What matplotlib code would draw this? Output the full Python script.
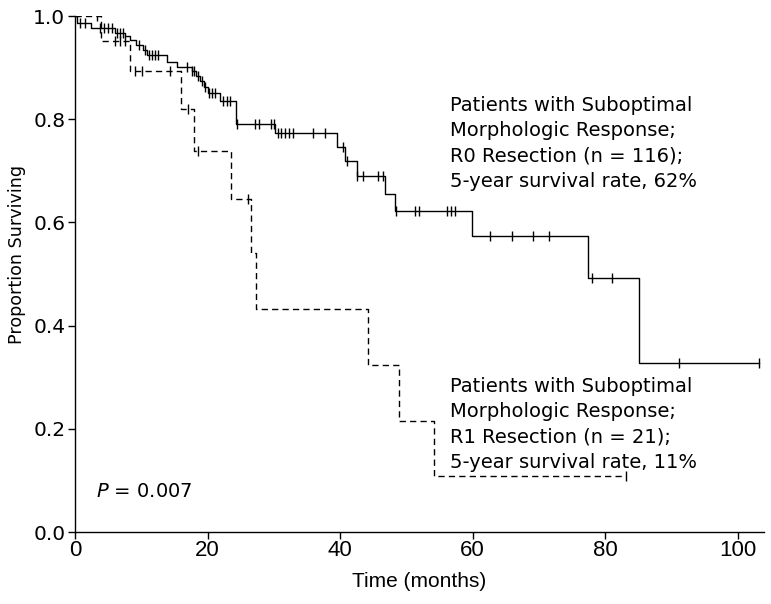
import numpy as np
import matplotlib
matplotlib.use("Agg")
import matplotlib.pyplot as plt

plt.rcParams['font.family'] = ['DejaVu Sans']

# R0 resection (n = 116): step times (months) and survival after each step
r0_times = [0, 0.35, 2.4, 6.0, 7.6, 8.3, 9.2, 10.2, 10.9, 13.9, 15.4, 17.6, 18.2,
            18.8, 19.5, 20.0, 21.9, 24.3, 30.2, 39.5, 40.7, 42.5, 46.8, 48.3,
            59.9, 77.5, 85.1]
r0_surv = [1.0, 0.987, 0.976, 0.968, 0.962, 0.953, 0.944, 0.935, 0.925, 0.911,
           0.902, 0.893, 0.884, 0.874, 0.862, 0.851, 0.836, 0.791, 0.773, 0.746,
           0.719, 0.690, 0.655, 0.622, 0.574, 0.492, 0.328]
r0_censored = [0.75, 1.5, 3.8, 4.4, 5.0, 5.6, 6.4, 6.8, 7.2, 9.7, 10.5, 11.1, 11.6,
               12.0, 12.5, 16.9, 17.6, 17.9, 18.5, 19.1, 19.6, 20.2, 20.7, 21.2,
               22.3, 22.9, 23.4, 24.4, 27.2, 27.8, 29.6, 30.0, 30.6, 31.1, 31.7,
               32.3, 32.9, 35.9, 37.7, 40.4, 41.0, 42.6, 43.4, 45.7, 46.5, 48.4,
               51.3, 51.9, 56.1, 56.8, 57.3, 62.7, 65.9, 69.2, 71.6, 78.0, 81.1,
               91.1, 103.2]
r0_end = 103.2

# R1 resection (n = 21)
r1_times = [0, 3.9, 8.3, 16.0, 18.0, 23.6, 26.6, 27.3, 44.2, 48.9, 54.2]
r1_surv = [1.0, 0.952, 0.893, 0.820, 0.738, 0.645, 0.541, 0.432, 0.324, 0.216, 0.108]
r1_censored = [3.3, 6.0, 6.8, 7.5, 9.0, 10.1, 14.4, 17.0, 18.6, 26.1, 83.1]
r1_end = 83.1

x_ticks = [0, 20, 40, 60, 80, 100]
y_ticks = [0.0, 0.2, 0.4, 0.6, 0.8, 1.0]

txt_r0 = ['Patients with Suboptimal', 'Morphologic Response;',
          'R0 Resection (n = 116);', '5-year survival rate, 62%']
txt_r1 = ['Patients with Suboptimal', 'Morphologic Response;',
          'R1 Resection (n = 21);', '5-year survival rate, 11%']


def surv_at(t, times, surv):
    idx = np.searchsorted(times, t, side='right') - 1
    return np.array(surv)[idx]


fig = plt.figure(figsize=(7.71, 6.04), dpi=100)
ax = fig.add_axes([75 / 771, 72 / 604, 689 / 771, 516 / 604])

for times, surv, cens, end, ls in [
        (r0_times, r0_surv, r0_censored, r0_end, '-'),
        (r1_times, r1_surv, r1_censored, r1_end, (0, (4.5, 3)))]:
    x = list(times) + [end]
    y = list(surv) + [surv[-1]]
    ax.step(x, y, where='post', color='black', lw=1.0, linestyle=ls)
    ax.plot(cens, surv_at(cens, times, surv), linestyle='none', marker='|',
            color='black', ms=7, mew=1.0)

ax.set_xlim(0, 104)
ax.set_ylim(0, 1.0)
ax.set_xticks(x_ticks)
ax.set_xticklabels([str(v) for v in x_ticks], fontfamily='Liberation Sans',
                   fontsize=16)
ax.set_yticks(y_ticks)
ax.set_yticklabels([f'{v:.1f}' for v in y_ticks], fontsize=14.5)
for s in ['top', 'right']:
    ax.spines[s].set_visible(False)
for s in ['left', 'bottom']:
    ax.spines[s].set_linewidth(1.0)
ax.tick_params(direction='out', length=5, width=1.0, pad=2)
ax.tick_params(axis='x', pad=1)

ax.set_xlabel('Time (months)', fontsize=15, labelpad=8, family='Liberation Sans')
ax.set_ylabel('Proportion Surviving', fontsize=12.6)
ax.yaxis.set_label_coords(-0.071, 0.537)

# annotation blocks, one text per line (baseline positions)
step = 25.3 / 516
for i, line in enumerate(txt_r0):
    ax.text(56.6, 0.816 - i * step, line, fontsize=14, va='baseline', ha='left')
for i, line in enumerate(txt_r1):
    ax.text(56.6, 0.272 - i * step, line, fontsize=14, va='baseline', ha='left')
ax.text(3.2, 0.068, r'$\it{P}$ = 0.007', fontsize=14, va='baseline', ha='left')

fig.savefig('out.png', dpi=100)
